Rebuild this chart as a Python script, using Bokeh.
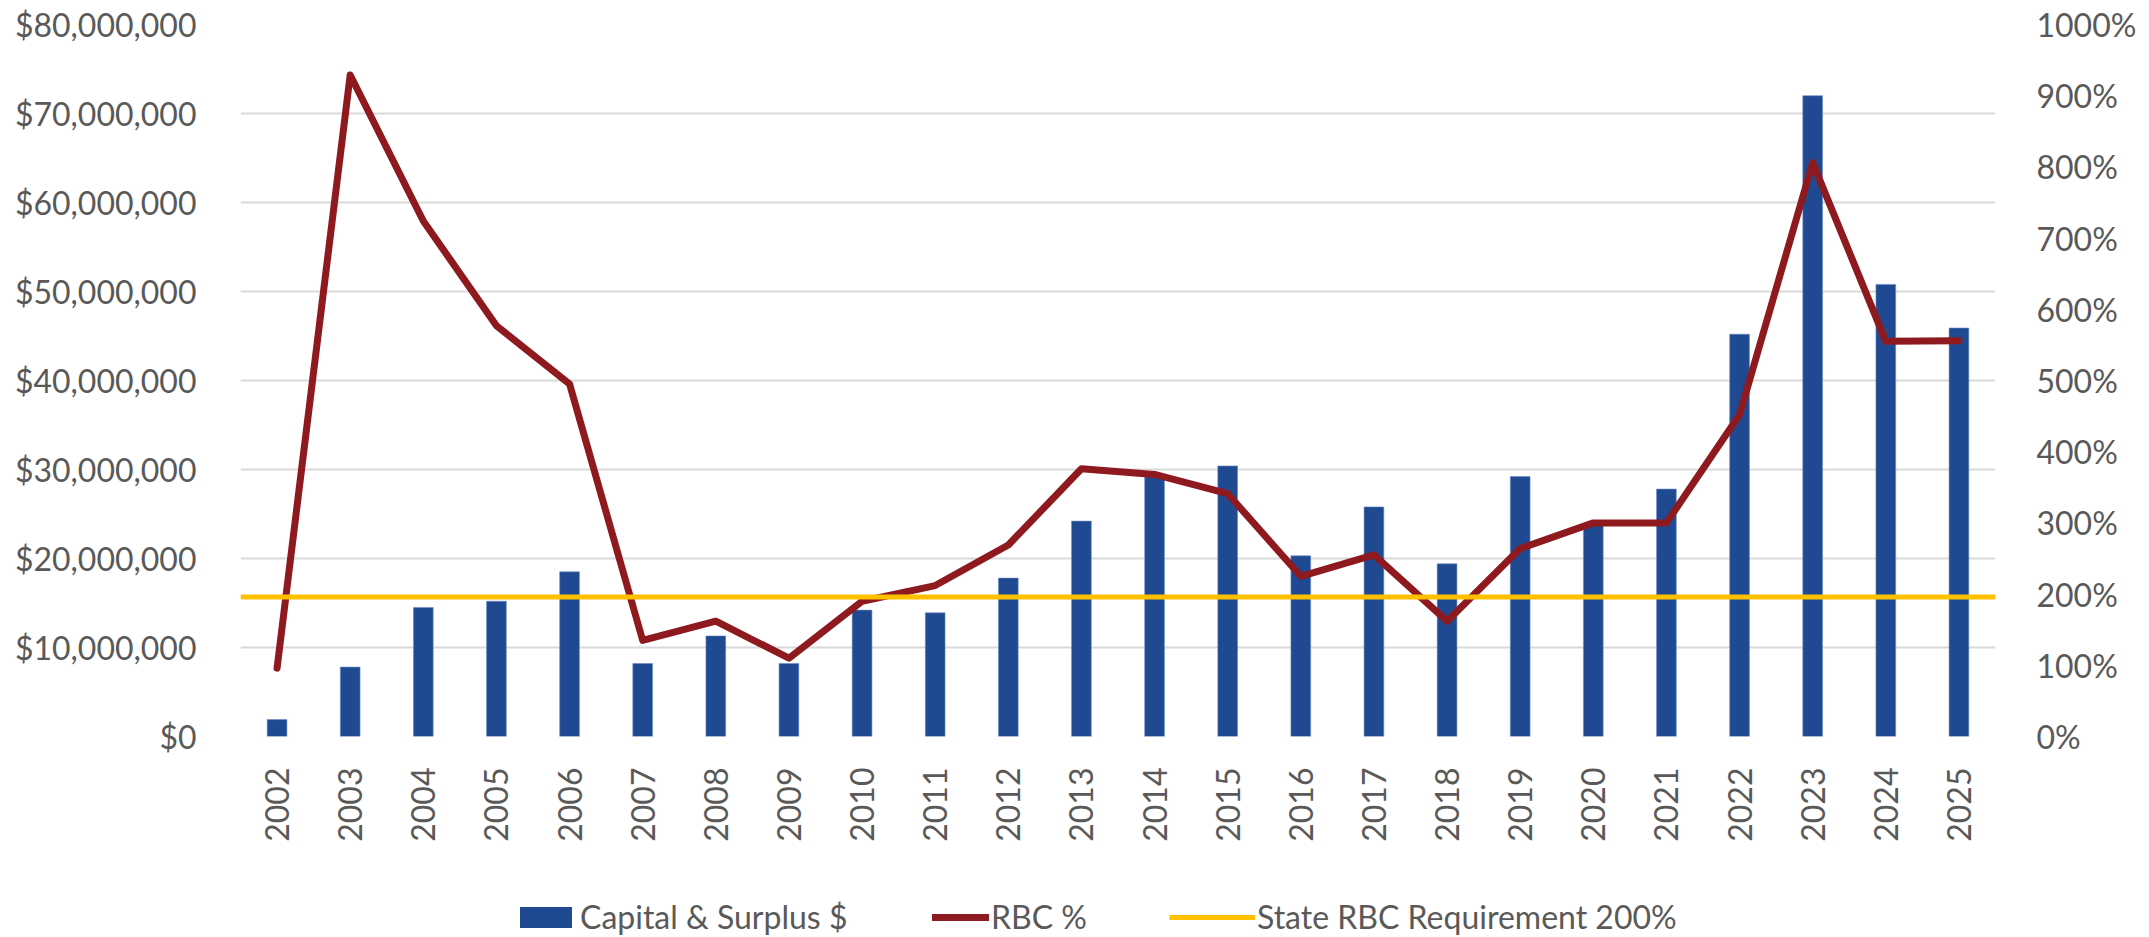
import math
from bokeh.plotting import figure
from bokeh.layouts import column
from bokeh.models import (Range1d, LinearAxis, FixedTicker, NumeralTickFormatter,
                          PrintfTickFormatter, Span, Legend, LegendItem, ColumnDataSource)
from bokeh.embed import file_html
from bokeh.resources import INLINE

# ---- data ----
years = [2002, 2003, 2004, 2005, 2006, 2007, 2008, 2009, 2010, 2011, 2012, 2013,
         2014, 2015, 2016, 2017, 2018, 2019, 2020, 2021, 2022, 2023, 2024, 2025]
capital_surplus = [1.9e6, 7.8e6, 14.5e6, 15.2e6, 18.5e6, 8.2e6, 11.3e6, 8.2e6,
                   14.2e6, 13.9e6, 17.8e6, 24.2e6, 29.2e6, 30.4e6, 20.3e6, 25.8e6,
                   19.4e6, 29.2e6, 23.8e6, 27.8e6, 45.2e6, 72.0e6, 50.8e6, 45.9e6]
rbc_pct = [96, 929, 724, 577, 495, 135, 162, 110, 190, 212, 269, 376,
           368, 341, 225, 255, 162, 264, 300, 300, 452, 806, 555, 556]
state_requirement = 196
left_ticks = [0, 10e6, 20e6, 30e6, 40e6, 50e6, 60e6, 70e6, 80e6]
right_ticks = [0, 100, 200, 300, 400, 500, 600, 700, 800, 900, 1000]
legend_labels = ["Capital & Surplus $", "RBC %", "State RBC Requirement 200%"]

FONT = "Lato"
FSIZE = "32px"
GREY = "#595959"
BLUE = "#1F4A91"
RED = "#8E1A1F"
YELLOW = "#FFC000"
GRID = "#D9D9D9"

W = 2149
H_MAIN = 880
H_LEG = 57

n = len(years)
src = ColumnDataSource(dict(x=list(range(n)), capital=capital_surplus, rbc=rbc_pct,
                            req=[state_requirement] * n))

p = figure(width=W, height=H_MAIN, output_backend="svg", toolbar_location=None,
           x_range=Range1d(-0.5, n - 0.5), y_range=Range1d(0, 80e6),
           min_border_left=240, min_border_right=154, min_border_top=24,
           min_border_bottom=H_MAIN - 24 - 712)
p.outline_line_color = None
p.background_fill_color = "white"
p.border_fill_color = "white"

p.extra_y_ranges = {"pct": Range1d(0, 1000)}

# x axis
xa = p.xaxis[0]
xa.ticker = FixedTicker(ticks=list(range(n)))
xa.major_label_overrides = {i: str(y) for i, y in enumerate(years)}
xa.major_label_orientation = math.pi / 2
xa.major_tick_line_color = None
xa.minor_tick_line_color = None
xa.axis_line_color = None
xa.major_label_standoff = 25
xa.major_label_text_font = FONT
xa.major_label_text_font_size = FSIZE
xa.major_label_text_color = GREY

# left axis
ya = p.yaxis[0]
ya.ticker = FixedTicker(ticks=left_ticks)
ya.formatter = NumeralTickFormatter(format="$0,0")
ya.major_tick_line_color = None
ya.minor_tick_line_color = None
ya.axis_line_color = None
ya.major_label_standoff = 38
ya.major_label_text_font = FONT
ya.major_label_text_font_size = FSIZE
ya.major_label_text_color = GREY

# right axis
ra = LinearAxis(y_range_name="pct", ticker=FixedTicker(ticks=right_ticks),
                formatter=PrintfTickFormatter(format="%d%%"))
ra.major_tick_line_color = None
ra.minor_tick_line_color = None
ra.axis_line_color = None
ra.major_label_standoff = 35
ra.major_label_text_font = FONT
ra.major_label_text_font_size = FSIZE
ra.major_label_text_color = GREY
p.add_layout(ra, "right")

p.xgrid.visible = False
p.ygrid.ticker = FixedTicker(ticks=left_ticks)
p.ygrid.grid_line_color = GRID
p.ygrid.grid_line_width = 2

bar_style = dict(fill_color=BLUE, line_color="#6B8CC7", line_width=1, line_alpha=0.6)
red_style = dict(line_color=RED, line_width=7, line_join="round", line_cap="round")
yellow_style = dict(line_color=YELLOW, line_width=5)

p.vbar(x="x", top="capital", width=0.27, source=src, **bar_style)
p.line(x="x", y="rbc", source=src, y_range_name="pct", **red_style)
p.add_layout(Span(location=state_requirement, dimension="width", y_range_name="pct",
                  **yellow_style))

# ---- legend strip below the chart (frames are aligned with the chart) ----
# its y range lies far above all data, so only the legend entries are seen
q = figure(width=W, height=H_LEG, output_backend="svg", toolbar_location=None,
           x_range=Range1d(-0.5, n - 0.5), y_range=Range1d(1e9, 2e9),
           min_border_left=0, min_border_right=0, min_border_top=0, min_border_bottom=0,
           x_axis_type=None, y_axis_type=None)
q.outline_line_color = None
q.grid.visible = False
q.background_fill_color = "white"
q.border_fill_color = "white"

r_bar = q.vbar(x="x", top="capital", width=0.27, source=src, fill_color=BLUE,
               line_color=None)
r_red = q.line(x="x", y="rbc", source=src, **red_style)
r_yel = q.line(x="x", y="req", source=src, **yellow_style)

def add_legend(label, rend, glyph_w, x_off, y_off):
    lg = Legend(items=[LegendItem(label=label, renderers=[rend])],
                location=(x_off, y_off), orientation="horizontal",
                glyph_width=glyph_w, glyph_height=26, label_standoff=2,
                padding=0, margin=0, spacing=0,
                border_line_color=None, background_fill_alpha=0,
                label_text_font=FONT, label_text_font_size=FSIZE,
                label_text_color=GREY)
    q.add_layout(lg, "center")

add_legend(legend_labels[0], r_bar, 65, 273, 1)
add_legend(legend_labels[1], r_red, 57, 692, 1)
add_legend(legend_labels[2], r_yel, 86, 929, 1)

layout = column(p, q, spacing=0)
open("out.html", "w").write(file_html(layout, INLINE))
